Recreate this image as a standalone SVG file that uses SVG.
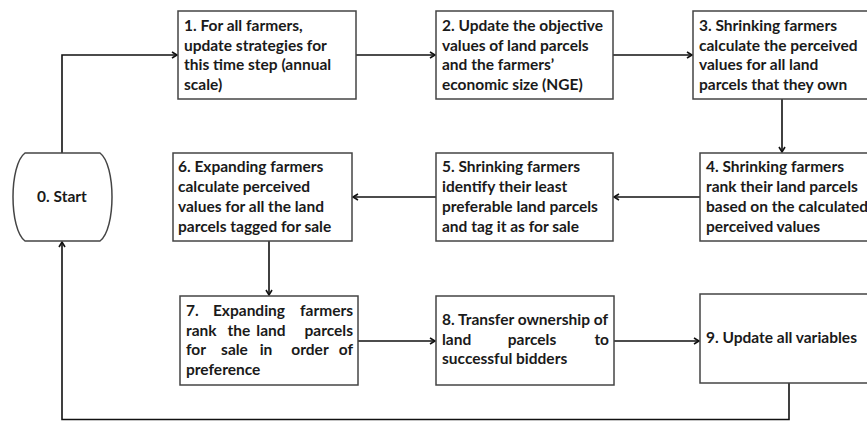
<svg xmlns="http://www.w3.org/2000/svg" width="867" height="421" viewBox="0 0 867 421">
<style>
.box{fill:#fff;stroke:#444;stroke-width:1.5}
.t{font-family:Lato,"Open Sans",sans-serif;font-weight:700;font-size:15.5px;fill:#1a1a1a}
.m{text-anchor:middle}
.e{text-anchor:end}
.c{fill:none;stroke:#111;stroke-width:1.6}
</style>
<defs>
<marker id="ah" markerWidth="8" markerHeight="8" refX="6" refY="4" orient="auto" markerUnits="userSpaceOnUse">
<path d="M1,1 L6,4 L1,7" fill="none" stroke="#111" stroke-width="1.6"/>
</marker>
</defs>
<rect width="867" height="421" fill="#fff"/>
<g id="connectors">
<path class="c" d="M62,153 V55 H177" marker-end="url(#ah)"/>
<path class="c" d="M356,55 H435" marker-end="url(#ah)"/>
<path class="c" d="M613,55 H692" marker-end="url(#ah)"/>
<path class="c" d="M782,99 V152" marker-end="url(#ah)"/>
<path class="c" d="M700,197 H614" marker-end="url(#ah)"/>
<path class="c" d="M436,197 H353" marker-end="url(#ah)"/>
<path class="c" d="M269,241 V295" marker-end="url(#ah)"/>
<path class="c" d="M358,341 H435" marker-end="url(#ah)"/>
<path class="c" d="M614,341 H699" marker-end="url(#ah)"/>
<path class="c" d="M789,383 V419.5 H62 V242" marker-end="url(#ah)"/>
</g>
<g id="n0">
<path class="box" d="M25,153 H100 C116,165 116,229 100,241 H25 C9,229 9,165 25,153 Z"/>
<text class="t m" x="62" y="202">0. Start</text>
</g>
<g id="n1">
<rect class="box" x="178" y="11" width="178" height="88"/>
<text class="t"><tspan x="184" y="31">1. For all farmers,</tspan><tspan x="184" y="50.5">update strategies for</tspan><tspan x="184" y="70">this time step (annual</tspan><tspan x="184" y="89.5">scale)</tspan></text>
</g>
<g id="n2">
<rect class="box" x="436" y="11" width="177" height="88"/>
<text class="t"><tspan x="442" y="31">2. Update the objective</tspan><tspan x="442" y="50.5">values of land parcels</tspan><tspan x="442" y="70">and the farmers’</tspan><tspan x="442" y="89.5">economic size (NGE)</tspan></text>
</g>
<g id="n3">
<rect class="box" x="693" y="11" width="180" height="88"/>
<text class="t"><tspan x="699" y="31">3. Shrinking farmers</tspan><tspan x="699" y="50.5">calculate the perceived</tspan><tspan x="699" y="70">values for all land</tspan><tspan x="699" y="89.5">parcels that they own</tspan></text>
</g>
<g id="n4">
<rect class="box" x="700" y="153" width="180" height="88"/>
<text class="t"><tspan x="706" y="172">4. Shrinking farmers</tspan><tspan x="706" y="192">rank their land parcels</tspan><tspan x="706" y="212">based on the calculated</tspan><tspan x="706" y="232">perceived values</tspan></text>
</g>
<g id="n5">
<rect class="box" x="436" y="153" width="177" height="88"/>
<text class="t"><tspan x="442" y="172">5. Shrinking farmers</tspan><tspan x="442" y="192">identify their least</tspan><tspan x="442" y="212">preferable land parcels</tspan><tspan x="442" y="232">and tag it as for sale</tspan></text>
</g>
<g id="n6">
<rect class="box" x="173" y="153" width="179" height="88"/>
<text class="t"><tspan x="178" y="172">6. Expanding farmers</tspan><tspan x="178" y="192">calculate perceived</tspan><tspan x="178" y="212">values for all the land</tspan><tspan x="178" y="232">parcels tagged for sale</tspan></text>
</g>
<g id="n7">
<rect class="box" x="180" y="296" width="178" height="89"/>
<text class="t" x="186" y="316">7.</text>
<text class="t m" x="249" y="316">Expanding</text>
<text class="t e" x="353" y="316">farmers</text>
<text class="t" x="186" y="335.5">rank</text>
<text class="t m" x="239" y="335.5">the</text>
<text class="t m" x="271" y="335.5">land</text>
<text class="t e" x="353" y="335.5">parcels</text>
<text class="t" x="186" y="355">for</text>
<text class="t m" x="234.5" y="355">sale</text>
<text class="t m" x="266" y="355">in</text>
<text class="t m" x="310" y="355">order</text>
<text class="t e" x="353" y="355">of</text>
<text class="t" x="186" y="374.5">preference</text>
</g>
<g id="n8">
<rect class="box" x="436" y="296" width="178" height="89"/>
<text class="t" x="442" y="325">8. Transfer ownership of</text>
<text class="t" x="442" y="345">land</text>
<text class="t m" x="532" y="345">parcels</text>
<text class="t e" x="609" y="345">to</text>
<text class="t" x="442" y="364">successful bidders</text>
</g>
<g id="n9">
<rect class="box" x="700" y="294" width="180" height="89"/>
<text class="t" x="706" y="343">9. Update all variables</text>
</g>
</svg>
